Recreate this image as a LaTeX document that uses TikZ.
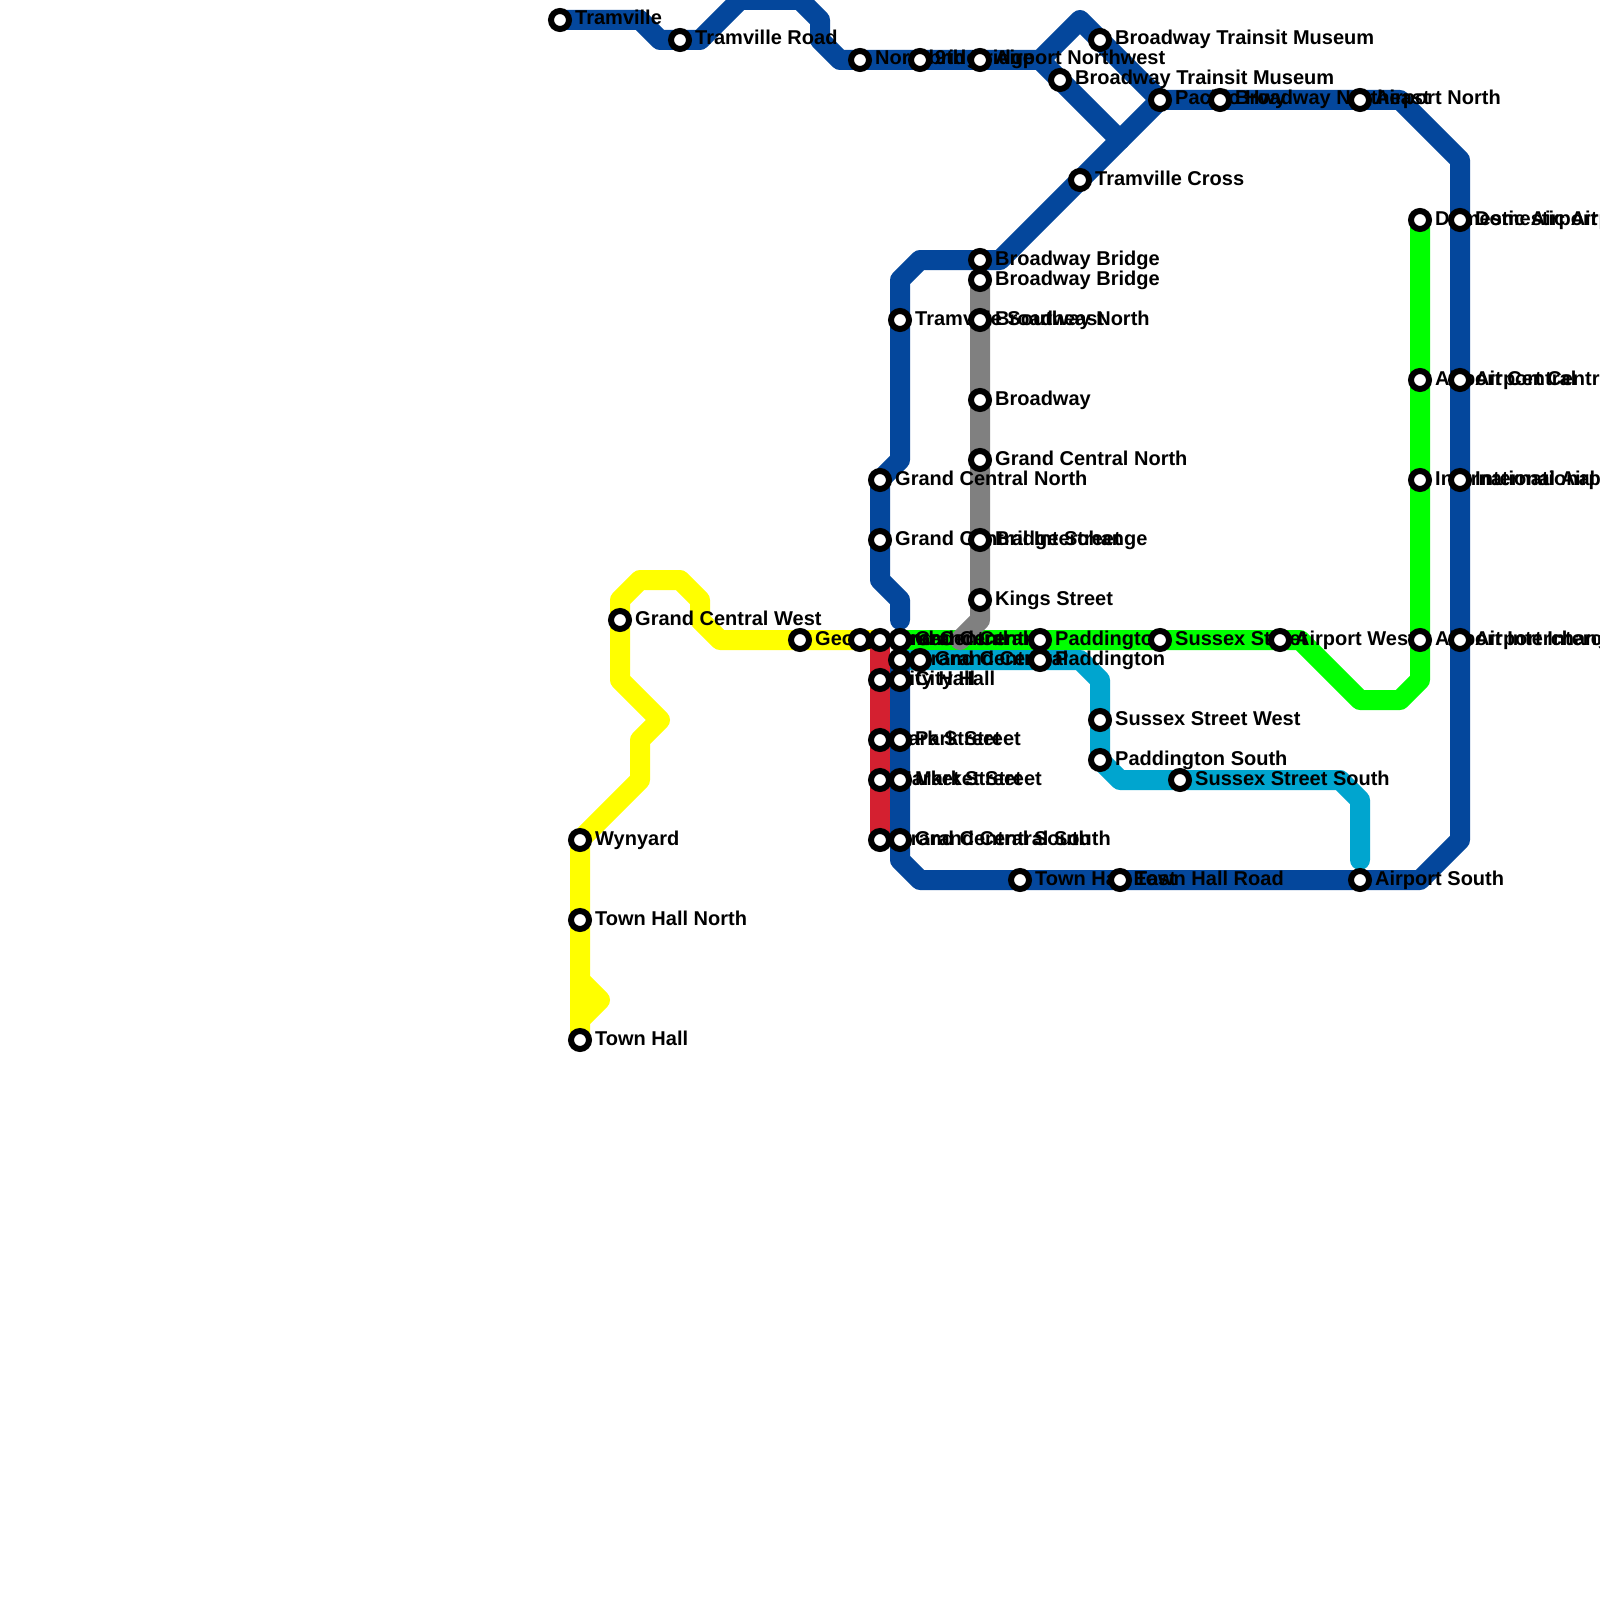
\documentclass[tikz,border=0pt]{standalone}
\usepackage{fontspec}
\setmainfont{Liberation Sans}
\definecolor{lblue}{HTML}{04479C}
\definecolor{lred}{HTML}{D42030}
\definecolor{lgreen}{HTML}{00FF00}
\definecolor{lyellow}{HTML}{FFFF00}
\definecolor{lcyan}{HTML}{00A5CF}
\definecolor{lgray}{HTML}{808080}
\pgfdeclarelayer{lines}
\pgfdeclarelayer{texts}
\pgfsetlayers{lines,texts,main}
\tikzset{
  stationdot/.style={circle,draw=black,fill=white,line width=6pt,minimum size=18pt,inner sep=0pt},
  stationlabel/.style={anchor=base west,inner sep=0pt,font=\fontsize{20}{20}\selectfont\bfseries,text=black},
  route/.style={line width=20pt,line cap=round,line join=round},
}
\newcommand{\stn}[4]{%
  \node[stationdot] (#1) at (#2,#3) {};
  \begin{pgfonlayer}{texts}\node[stationlabel] (#1l) at (#2+15,#3+5) {#4};\end{pgfonlayer}}
\begin{document}
\begin{tikzpicture}[x=1pt,y=-1pt]
\useasboundingbox (0,0) rectangle (1600,1600);
% blue
\stn{tv}{560}{20}{Tramville}
\stn{tvr}{680}{40}{Tramville Road}
\stn{nb}{860}{60}{Northbridge}
\stn{nine}{920}{60}{9th Bridge}
\stn{anw}{980}{60}{Airport Northwest}
\stn{btma}{1060}{80}{Broadway Trainsit Museum}
\stn{btmb}{1100}{40}{Broadway Trainsit Museum}
\stn{pac}{1160}{100}{Pacific Hwy}
\stn{bne}{1220}{100}{Broadway Northeast}
\stn{an}{1360}{100}{Airport North}
\stn{tc}{1080}{180}{Tramville Cross}
\stn{bba}{980}{260}{Broadway Bridge}
\stn{tse}{900}{320}{Tramville Southeast}
\stn{gcna}{880}{480}{Grand Central North}
\stn{gci}{880}{540}{Grand Central Interchange}
\stn{dab}{1460}{220}{Domestic Airport}
\stn{acb}{1460}{380}{Airport Central}
\stn{iab}{1460}{480}{International Airport}
\stn{aib}{1460}{640}{Airport Interchange}
\stn{asth}{1360}{880}{Airport South}
\stn{the}{1020}{880}{Town Hall East}
\stn{thr}{1120}{880}{Town Hall Road}
\stn{gcb}{900}{640}{Grand Central}
\stn{chb}{900}{680}{City Hall}
\stn{psb}{900}{740}{Park Street}
\stn{msb}{900}{780}{Market Street}
\stn{gcsb}{900}{840}{Grand Central South}
% gray
\stn{bbb}{980}{280}{Broadway Bridge}
\stn{bn}{980}{320}{Broadway North}
\stn{bw}{980}{400}{Broadway}
\stn{gcnb}{980}{460}{Grand Central North}
\stn{bs}{980}{540}{Bridge Street}
\stn{ks}{980}{600}{Kings Street}
% yellow
\stn{th}{580}{1040}{Town Hall}
\stn{thn}{580}{920}{Town Hall North}
\stn{wy}{580}{840}{Wynyard}
\stn{gcw}{620}{620}{Grand Central West}
\stn{gs}{800}{640}{George Street}
\stn{gcy}{860}{640}{Grand Central}
% red
\stn{gcr}{880}{640}{Grand Central}
\stn{chr}{880}{680}{City Hall}
\stn{psr}{880}{740}{Park Street}
\stn{msr}{880}{780}{Market Street}
\stn{gcsr}{880}{840}{Grand Central South}
% green
\stn{pg}{1040}{640}{Paddington}
\stn{ss}{1160}{640}{Sussex Street}
\stn{aw}{1280}{640}{Airport West}
\stn{aig}{1420}{640}{Airport Interchange}
\stn{iag}{1420}{480}{International Airport}
\stn{acg}{1420}{380}{Airport Central}
\stn{dag}{1420}{220}{Domestic Airport}
% cyan
\stn{gcc}{900}{660}{Grand Central}
\stn{gcd}{920}{660}{Grand Central}
\stn{pc}{1040}{660}{Paddington}
\stn{ssw}{1100}{720}{Sussex Street West}
\stn{ps}{1100}{760}{Paddington South}
\stn{sss}{1180}{780}{Sussex Street South}
\begin{pgfonlayer}{lines}
\fill[white] (0,0) rectangle (1600,1600);
% bend points
\coordinate (b1) at (640,20); \coordinate (b2) at (660,40); \coordinate (b3) at (700,40);
\coordinate (b4) at (740,0); \coordinate (b5) at (800,0); \coordinate (b6) at (820,20);
\coordinate (b7) at (820,40); \coordinate (b8) at (840,60); \coordinate (b9) at (1040,60);
\coordinate (b10) at (1080,20); \coordinate (b11) at (1120,140); \coordinate (b12) at (1000,260);
\coordinate (b13) at (920,260); \coordinate (b14) at (900,280); \coordinate (b15) at (900,460);
\coordinate (b16) at (880,580); \coordinate (b17) at (900,600); \coordinate (b18) at (900,620);
\coordinate (b19) at (1400,100); \coordinate (b20) at (1460,160); \coordinate (b21) at (1460,840);
\coordinate (b22) at (1420,880); \coordinate (b23) at (920,880); \coordinate (b24) at (900,860);
% yellow bends
\coordinate (y1) at (580,980); \coordinate (y2) at (600,1000); \coordinate (y3) at (580,1020);
\coordinate (y4) at (640,780); \coordinate (y5) at (640,740); \coordinate (y6) at (660,720);
\coordinate (y7) at (620,680); \coordinate (y8) at (620,600); \coordinate (y9) at (640,580);
\coordinate (y10) at (680,580); \coordinate (y11) at (700,600); \coordinate (y12) at (700,620);
\coordinate (y13) at (720,640);
% green bends
\coordinate (g1) at (1300,640); \coordinate (g2) at (1360,700); \coordinate (g3) at (1400,700);
\coordinate (g4) at (1420,680);
% cyan bends
\coordinate (c1) at (1080,660); \coordinate (c2) at (1100,680); \coordinate (c3) at (1120,780);
\coordinate (c4) at (1340,780); \coordinate (c5) at (1360,800); \coordinate (c6) at (1360,860);
% gray bends
\coordinate (k1) at (980,620); \coordinate (k2) at (960,640);
\draw[route,lyellow] (th.center) -- (y3) -- (y2) -- (y1) -- (thn.center) -- (wy.center) -- (y4) -- (y5) -- (y6) -- (y7) -- (y8) -- (y9) -- (y10) -- (y11) -- (y12) -- (y13) -- (gs.center) -- (gcy.center) -- (gcr.center);
\draw[route,lyellow] (th.center) -- (y1);
\draw[route,lred] (gcr.center) -- (gcsr.center);
\draw[route,lgreen] (gcb.center) -- (aw.center) -- (g1) -- (g2) -- (g3) -- (g4) -- (dag.center);
\draw[route,lgray] (bbb.center) -- (k1) -- (k2);
\draw[route,lcyan] (gcc.center) -- (c1) -- (c2) -- (ps.center) -- (c3) -- (c4) -- (c5) -- (c6);
\draw[route,lblue] (tv.center) -- (b1) -- (b2) -- (b3) -- (b4) -- (b5) -- (b6) -- (b7) -- (b8) -- (b9) -- (b10) -- (pac.center) -- (b12) -- (b13) -- (b14) -- (b15) -- (gcna.center) -- (b16) -- (b17) -- (b18);
\draw[route,lblue] (b9) -- (b11);
\draw[route,lblue] (pac.center) -- (b19) -- (b20) -- (b21) -- (b22) -- (b23) -- (b24) -- (gcc.center);
\end{pgfonlayer}
\end{tikzpicture}
\end{document}
